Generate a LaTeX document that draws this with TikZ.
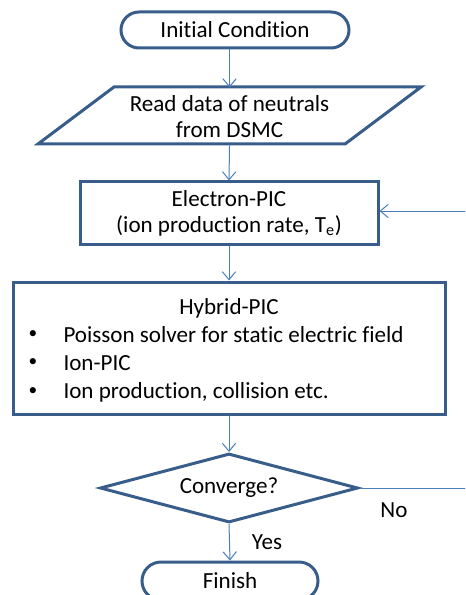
\documentclass[tikz,border=0pt]{standalone}
\usepackage{fontspec}
\setmainfont{Carlito}[Ligatures=CommonOff]
\usetikzlibrary{shapes.geometric,shapes.misc,arrows.meta}

\definecolor{boxline}{RGB}{56,93,138}
\definecolor{arrline}{RGB}{74,126,187}

\tikzset{every picture/.style={line width=0.75pt}}
\tikzset{
  txt/.style={inner sep=0pt,align=center,font=\fontsize{17.3}{19.5}\selectfont},
  flowbox/.style={txt,draw=boxline,line width=2.25pt},
  terminal/.style={flowbox,rounded rectangle},
  decision/.style={flowbox,diamond,aspect=3.74},
  link/.style={draw=arrline,-{Straight Barb[length=6pt,width=10pt]}},
}

\begin{document}
\begin{tikzpicture}[x=0.75pt,y=0.75pt,yscale=-1,xscale=1]
\useasboundingbox (0,0) rectangle (465,595);
\clip (0,0) rectangle (465,595);

%Terminal: start
\node [terminal, minimum width=171pt, minimum height=27pt] (init) at (235,30) {Initial Condition};
%Shape: Parallelogram
\draw [draw=boxline, line width=2.25pt] (114,87) -- (421,87) -- (345,144) -- (38,144) -- cycle ;
\node [txt, minimum width=172.5pt, minimum height=42.75pt] (read) at (229.5,116.5) {Read data of neutrals\\from DSMC};
%Process: electron
\node [flowbox, minimum width=223.5pt, minimum height=46.5pt] (electron) at (229,213) {Electron-PIC\\(ion production rate, T\textsubscript{e})};
%Process: hybrid
\node [flowbox, minimum width=324pt, minimum height=99pt] (hybrid) at (229,348) {};
\node [txt] (hybtitle) at (229,308) {Hybrid-PIC};
\foreach \yy/\item in {335/Poisson solver for static electric field, 363/Ion-PIC, 392/{Ion production, collision etc.}} {
  \node [txt, font=\fontsize{13}{15}\selectfont] at (33,\yy) {\textbullet};
  \node [txt, anchor=west] at (63,\yy) {\item};
}
%Decision
\node [decision, minimum width=193.5pt, minimum height=51.75pt] (conv) at (229,488) {Converge?};
%Terminal: end
\node [terminal, minimum width=132pt, minimum height=28.5pt] (finish) at (230,581) {Finish};

%Connectors
\coordinate (fbin) at (466,211);
\coordinate (fbout) at (466,488);
\draw [link] (init.south -| read.north) -- (read.north);
\draw [link] (read.south) -- (electron.north);
\draw [link] (electron.south) -- (hybrid.north);
\draw [link] (hybrid.south) -- (conv.north);
\draw [link] (conv.south) -- (finish.north);
\draw [draw=arrline] (conv.east) -- (fbout);
\draw [link] (fbin) -- (fbin -| electron.east);

% Text Node
\node [txt] (yes) at (267,542) {Yes};
\node [txt] (no) at (394,510) {No};

\end{tikzpicture}
\end{document}
